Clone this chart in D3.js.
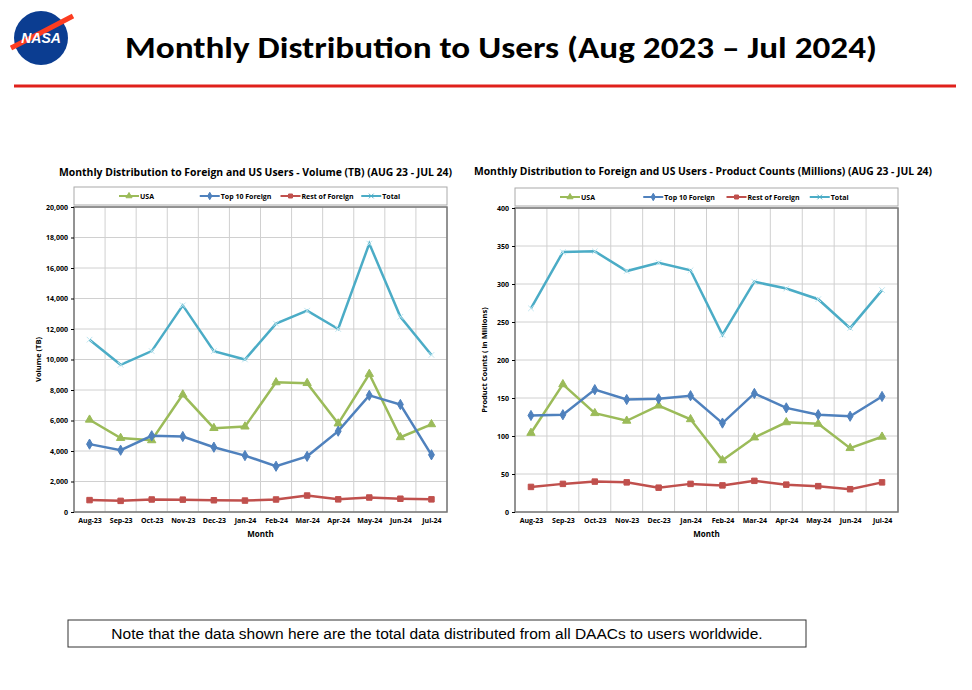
<!DOCTYPE html>
<html><head><meta charset="utf-8">
<script src="https://cdn.jsdelivr.net/npm/d3@7"></script>
<style>body{margin:0;background:#fff;font-family:Calibri,Carlito,"Liberation Sans",Arial,sans-serif}</style>
</head><body>
<svg id="page" width="972" height="690"></svg>
<script>
var months = ["Aug-23","Sep-23","Oct-23","Nov-23","Dec-23","Jan-24","Feb-24","Mar-24","Apr-24","May-24","Jun-24","Jul-24"];
var seriesNames = ["USA","Top 10 Foreign","Rest of Foreign","Total"];

var volUSA   = [6050,4850,4700,7700,5500,5600,8500,8450,5800,9050,4900,5750];
var volTop10 = [4450,4050,5000,4950,4250,3700,3000,3650,5300,7650,7050,3750];
var volRest  = [780,730,820,810,770,750,820,1080,830,950,870,830];
var volTotal = [11300,9650,10550,13550,10550,10000,12350,13200,12000,17600,12800,10300];
var volTicks = [0,2000,4000,6000,8000,10000,12000,14000,16000,18000,20000];

var cntUSA   = [104,168,130,120,140,122,68,98,118,116,84,99];
var cntTop10 = [127,128,161,148,149,153,117,156,137,128,126,152];
var cntRest  = [33,37,40,39,32,37,35,41,36,34,30,39];
var cntTotal = [268,342,343,317,328,318,233,303,294,280,242,292];
var cntTicks = [0,50,100,150,200,250,300,350,400];

var colors = ["#9bbb59","#4f81bd","#c0504d","#4bacc6"];
var symbols = [d3.symbolTriangle, d3.symbolDiamond, d3.symbolSquare, d3.symbolX];

var svg = d3.select("#page");

// header
var logo = svg.append("g").attr("transform","translate(41,38)");
logo.append("circle").attr("r",27).attr("fill","#0b3d91");
logo.append("path").attr("d","M-30,10 Q0,-5 32,-22").attr("stroke","#fc3d21").attr("stroke-width",5).attr("fill","none");
logo.append("text").attr("text-anchor","middle").attr("y",5).attr("fill","#fff")
  .attr("font-size",14).attr("font-weight","bold").attr("font-style","italic").attr("font-family","Arial,sans-serif").text("NASA");
svg.append("text").attr("x",501).attr("y",58).attr("text-anchor","middle")
  .attr("font-size",30).attr("font-weight","bold").attr("font-family","Carlito,Calibri,'Open Sans',sans-serif")
  .attr("textLength",752).attr("lengthAdjust","spacingAndGlyphs")
  .text("Monthly Distribution to Users (Aug 2023 \u2013 Jul 2024)");
svg.append("line").attr("x1",14).attr("x2",956).attr("y1",86).attr("y2",86)
  .attr("stroke","#e0201b").attr("stroke-width",3);

function drawChart(opt) {
  var g = svg.append("g");
  var x = d3.scalePoint().domain(months).range([opt.x0, opt.x1]).padding(0.5);
  var y = d3.scaleLinear().domain([0, d3.max(opt.ticks)]).range([opt.y1, opt.y0]);

  g.append("text").attr("x",opt.titleX).attr("y",opt.titleY).attr("font-size",10.5).attr("font-weight","bold")
    .attr("font-family","'Open Sans',sans-serif").attr("textLength",opt.titleW).attr("lengthAdjust","spacingAndGlyphs").text(opt.title);

  // legend box
  g.append("rect").attr("x",opt.x0).attr("y",opt.y0-20).attr("width",opt.x1-opt.x0).attr("height",18)
    .attr("fill","#fff").attr("stroke","#aaa");
  seriesNames.forEach(function(n,i){
    var lx = opt.x0 + 45 + i*(opt.x1-opt.x0-50)/4;
    var ly = opt.y0-11;
    g.append("line").attr("x1",lx).attr("x2",lx+20).attr("y1",ly).attr("y2",ly).attr("stroke",colors[i]).attr("stroke-width",2);
    g.append("path").attr("d",d3.symbol(symbols[i],16)()).attr("transform","translate("+(lx+10)+","+ly+")").attr("fill",colors[i]).attr("stroke",colors[i]);
    g.append("text").attr("x",lx+21).attr("y",ly+2.5).attr("font-size",7).attr("font-weight","bold").attr("font-family","'Open Sans',sans-serif").text(n);
  });

  // grid
  var bw = (opt.x1-opt.x0)/months.length;
  g.selectAll(".hg").data(opt.ticks).enter().append("line")
    .attr("x1",opt.x0).attr("x2",opt.x1).attr("y1",d=>y(d)).attr("y2",d=>y(d)).attr("stroke","#d0d0d0");
  d3.range(months.length+1).forEach(function(i){
    g.append("line").attr("x1",opt.x0+i*bw).attr("x2",opt.x0+i*bw).attr("y1",opt.y0).attr("y2",opt.y1).attr("stroke","#d0d0d0");
  });
  g.append("rect").attr("x",opt.x0).attr("y",opt.y0).attr("width",opt.x1-opt.x0).attr("height",opt.y1-opt.y0)
    .attr("fill","none").attr("stroke","#777").attr("stroke-width",1.5);

  var ya = g.append("g").attr("transform","translate("+opt.x0+",0)")
    .call(d3.axisLeft(y).tickValues(opt.ticks).tickFormat(d3.format(",")).tickSize(3));
  ya.select(".domain").remove();
  ya.selectAll("text").attr("font-size",7).attr("font-weight","bold").attr("font-family","'Open Sans',sans-serif");
  var xa = g.append("g").attr("transform","translate(0,"+opt.y1+")").call(d3.axisBottom(x).tickSize(0).tickPadding(6));
  xa.select(".domain").remove();
  xa.selectAll("text").attr("font-size",7).attr("font-weight","bold").attr("font-family","'Open Sans',sans-serif");

  g.append("text").attr("x",(opt.x0+opt.x1)/2).attr("y",opt.y1+25).attr("text-anchor","middle")
    .attr("font-size",8).attr("font-weight","bold").attr("font-family","'Open Sans',sans-serif").text("Month");
  g.append("text").attr("transform","translate("+(opt.x0-opt.yLabOff)+","+((opt.y0+opt.y1)/2)+") rotate(-90)")
    .attr("text-anchor","middle").attr("font-size",7.5).attr("font-weight","bold").attr("font-family","'Open Sans',sans-serif").text(opt.yLabel);

  var line = d3.line().x((d,i)=>x(months[i])).y(d=>y(d));
  opt.series.forEach(function(s,i){
    g.append("path").datum(s).attr("d",line).attr("fill","none").attr("stroke",colors[i]).attr("stroke-width",2.5);
    g.selectAll(".m"+i).data(s).enter().append("path")
      .attr("d",d3.symbol(symbols[i], i==3 ? 22 : 30)())
      .attr("transform",(d,j)=>"translate("+x(months[j])+","+y(d)+")")
      .attr("fill", i==3 ? "#dff3f8" : colors[i]).attr("stroke", i==3 ? "#bfe6f0" : colors[i]);
  });
}

drawChart({x0:74,x1:447,y0:207,y1:512,ticks:volTicks,series:[volUSA,volTop10,volRest,volTotal],
  title:"Monthly Distribution to Foreign and US Users - Volume  (TB) (AUG 23 - JUL 24)",titleX:59,titleY:176,titleW:393,
  yLabel:"Volume (TB)",yLabOff:33});
drawChart({x0:515,x1:898,y0:208,y1:512,ticks:cntTicks,series:[cntUSA,cntTop10,cntRest,cntTotal],
  title:"Monthly Distribution to Foreign and US Users - Product Counts (Millions) (AUG 23 - JUL 24)",titleX:474,titleY:175,titleW:458,
  yLabel:"Product Counts ( in Millions)",yLabOff:28});

svg.append("rect").attr("x",68).attr("y",620).attr("width",738).attr("height",27).attr("fill","#fff").attr("stroke","#333");
svg.append("text").attr("x",437).attr("y",639).attr("text-anchor","middle").attr("font-size",15.5)
  .attr("font-family","'Liberation Sans',Arial,sans-serif")
  .text("Note that the data shown here are the total data distributed from all DAACs to users worldwide.");
</script>
</body></html>
